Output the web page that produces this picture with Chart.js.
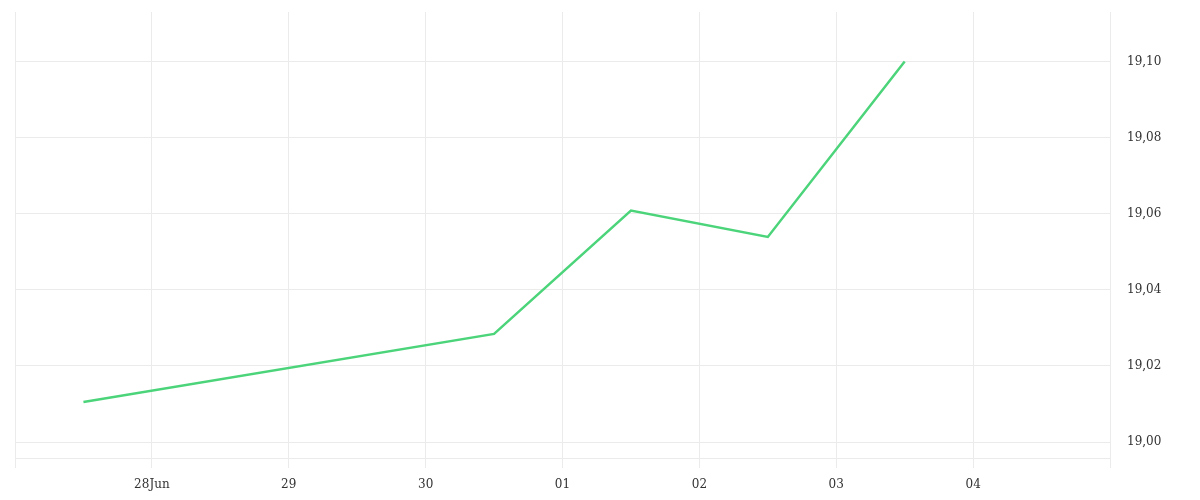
<!DOCTYPE html>
<html>
<head>
<meta charset="utf-8">
<script src="https://cdn.jsdelivr.net/npm/chart.js@4"></script>
<style>
	html, body { margin: 0; padding: 0; background: #fff; }
	#wrap { width: 1200px; height: 500px; }
</style>
</head>
<body>
<div id="wrap"><canvas id="chart"></canvas></div>
<script>
// days counted from 28 Jun (0 = 28Jun, 3 = 01 Jul)
const dayPositions = [-0.5, 2.5, 3.5, 4.5, 5.5]
const rates = [19.0105, 19.0284, 19.0608, 19.0539, 19.1000]
const dayLabels = ['28Jun', '29', '30', '01', '02', '03', '04']

const gridColor = '#ebebeb'
const textColor = '#333333'
const tickFont = { family: "'DejaVu Serif', serif", size: 12 }

new Chart(document.getElementById('chart'), {
	type: 'line',
	data: {
		datasets: [{
			data: dayPositions.map((d, i) => ({ x: d, y: rates[i] })),
			borderColor: '#4cd47a',
			borderWidth: 2.5,
			pointRadius: 0,
			tension: 0,
			fill: false
		}]
	},
	options: {
		responsive: true,
		maintainAspectRatio: false,
		animation: false,
		layout: { padding: { left: 15, top: 12, right: 0, bottom: 0 } },
		plugins: {
			legend: { display: false },
			tooltip: { enabled: false }
		},
		scales: {
			x: {
				type: 'linear',
				min: -1,
				max: 7,
				grid: { color: gridColor, tickLength: 10, tickColor: gridColor },
				border: { color: gridColor },
				afterFit: (s) => { s.height = 42; s.paddingLeft = 0; s.paddingRight = 0 },
				ticks: {
					stepSize: 1,
					maxRotation: 0,
					padding: 10,
					color: textColor,
					font: tickFont,
					callback: (v) => dayLabels[v] ?? ''
				}
			},
			y: {
				position: 'right',
				min: 18.9958,
				max: 19.113,
				grid: { color: gridColor, drawTicks: false },
				border: { color: gridColor },
				afterFit: (s) => { s.width = 90; s.paddingTop = 0; s.paddingBottom = 0 },
				ticks: {
					stepSize: 0.02,
					includeBounds: false,
					padding: 17,
					color: textColor,
					font: tickFont,
					callback: (v) => v.toFixed(2).replace('.', ',')
				}
			}
		}
	}
});
</script>
</body>
</html>
